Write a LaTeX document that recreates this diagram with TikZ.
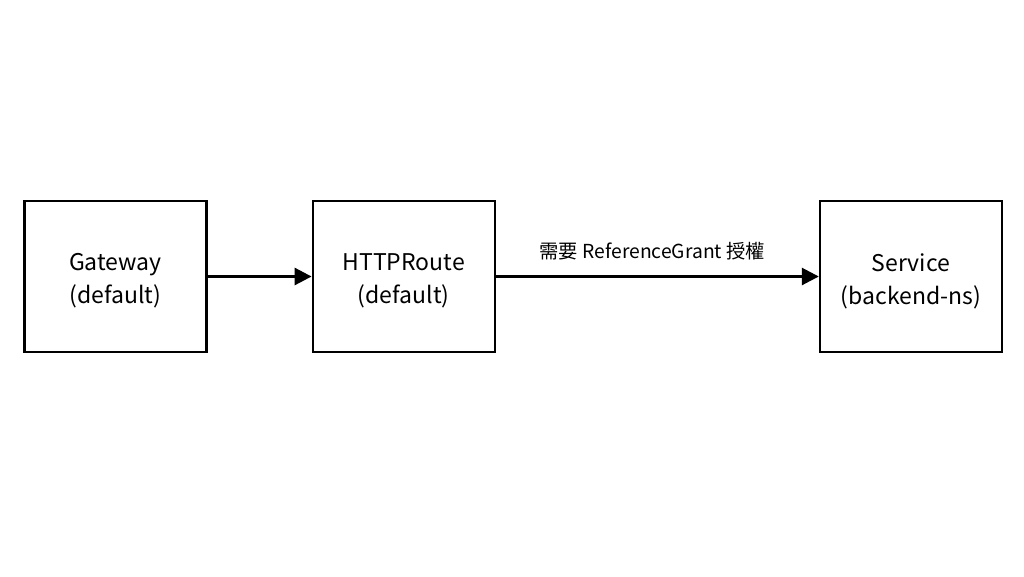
\documentclass[tikz,border=0pt]{standalone}
\usepackage{fontspec}
\setmainfont{Noto Sans CJK TC}
\usepackage{tikz}
\usetikzlibrary{positioning,arrows.meta}

\begin{document}
\begin{tikzpicture}[x=1pt,y=-1pt,
        box/.style={draw,line width=2.2pt,minimum width=182pt,minimum height=151pt},
        boxtext/.style={align=center,yshift=-4.5pt,font=\fontsize{23}{33}\selectfont},
        link/.style={line width=2.8pt,-{Triangle[length=17pt,width=17pt]}}]
        \useasboundingbox (0,0) rectangle (1024,576);
        \node[box,label={[boxtext]center:Gateway\\(default)}] (gateway) at (115.5,276.5) {};
        \node[box,right=104pt of gateway,label={[boxtext]center:HTTPRoute\\(default)}] (route) {};
        \node[box,right=323pt of route,label={[boxtext]center:Service\\(backend-ns)}] (service) {};
        \draw[link] (gateway) -- (route);
        \draw[link] (route) -- node[midway,above=12pt,xshift=-5pt,font=\fontsize{19.3}{23}\selectfont]
            {需要 ReferenceGrant 授權} (service);
    \end{tikzpicture}
\end{document}
